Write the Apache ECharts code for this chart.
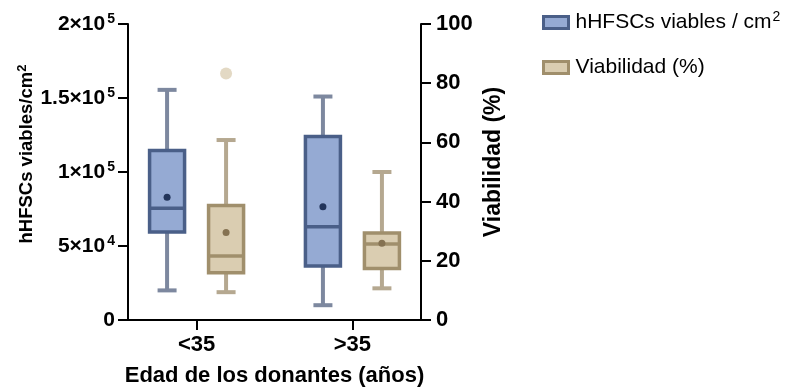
<!DOCTYPE html>
<html>
<head>
<meta charset="utf-8">
<script src="https://cdn.jsdelivr.net/npm/echarts@6/dist/echarts.min.js"></script>
<style>
  html, body { margin: 0; padding: 0; background: #ffffff; }
  #chart { width: 788px; height: 389px; }
</style>
</head>
<body>
<div id="chart"></div>
<script>
// Donor age groups
const categories = ['<35', '>35'];

// hHFSCs viables / cm² (left axis): whisker ends, quartiles, median, mean
const cellsMin    = [20000, 10000];
const cellsQ1     = [59500, 36500];
const cellsMedian = [75500, 63000];
const cellsQ3     = [114500, 124000];
const cellsMax    = [155500, 151000];
const cellsMean   = [83000, 76500];

// Viabilidad (%) (right axis)
const viabMin    = [9.4, 10.7];
const viabQ1     = [16.0, 17.4];
const viabMedian = [21.6, 25.7];
const viabQ3     = [38.7, 29.4];
const viabMax    = [60.8, 50.0];
const viabMean   = [29.6, 25.9];

// Points beyond the whiskers (group index, value)
const viabOutlierGroup = [0];
const viabOutlierValue = [83.3];

// Tick labels; "^" marks the exponent
const leftTickValues = [0, 50000, 100000, 150000, 200000];
const leftTickLabels = ['0', '5×10^4', '1×10^5', '1.5×10^5', '2×10^5'];

const FONT = '"Liberation Sans", Arial, Helvetica, sans-serif';

const palette = {
  cells: { fill: '#95aad3', border: '#4a5f88', whisker: '#7d889f', mean: '#22345a' },
  viab:  { fill: '#dacdb1', border: '#a08f6c', whisker: '#b5a890', mean: '#857252', outlier: '#dccfb5' }
};

function toRichLabel(text) {
  const parts = text.split('^');
  return parts.length > 1 ? '{b|' + parts[0] + '}{s|' + parts[1] + '}' : '{b|' + parts[0] + '}';
}

function boxRenderer(colors, shift) {
  const half = 17.5;
  const capHalf = 9.5;
  return function (params, api) {
    const g = api.value(0);
    const cx = api.coord([g, 0])[0] + shift;
    const py = v => api.coord([g, v])[1];
    const yMin = py(api.value(1));
    const yQ1 = py(api.value(2));
    const yMed = py(api.value(3));
    const yQ3 = py(api.value(4));
    const yMax = py(api.value(5));
    const yMean = py(api.value(6));
    const whisker = { stroke: colors.whisker, lineWidth: 4 };
    return {
      type: 'group',
      children: [
        { type: 'line', shape: { x1: cx, y1: yQ3, x2: cx, y2: yMax }, style: whisker },
        { type: 'line', shape: { x1: cx - capHalf, y1: yMax, x2: cx + capHalf, y2: yMax }, style: whisker },
        { type: 'line', shape: { x1: cx, y1: yQ1, x2: cx, y2: yMin }, style: whisker },
        { type: 'line', shape: { x1: cx - capHalf, y1: yMin, x2: cx + capHalf, y2: yMin }, style: whisker },
        { type: 'rect', shape: { x: cx - half, y: yQ3, width: half * 2, height: yQ1 - yQ3 },
          style: { fill: colors.fill, stroke: colors.border, lineWidth: 3.5 } },
        { type: 'line', shape: { x1: cx - half, y1: yMed, x2: cx + half, y2: yMed },
          style: { stroke: colors.border, lineWidth: 3.5 } },
        { type: 'circle', shape: { cx: cx, cy: yMean, r: 3.5 }, style: { fill: colors.mean } }
      ]
    };
  };
}

const cellsData = categories.map((c, i) =>
  [i, cellsMin[i], cellsQ1[i], cellsMedian[i], cellsQ3[i], cellsMax[i], cellsMean[i]]);
const viabData = categories.map((c, i) =>
  [i, viabMin[i], viabQ1[i], viabMedian[i], viabQ3[i], viabMax[i], viabMean[i]]);
const outlierData = viabOutlierGroup.map((g, i) => [g, viabOutlierValue[i]]);

const NAME_CELLS = 'hHFSCs viables / cm²';
const NAME_VIAB = 'Viabilidad (%)';

const chart = echarts.init(document.getElementById('chart'), null, { renderer: 'canvas' });

const tickLabelRich = {
  b: { fontFamily: FONT, fontWeight: 'bold', fontSize: 21, color: '#000', lineHeight: 24 },
  s: { fontFamily: FONT, fontWeight: 'bold', fontSize: 14, color: '#000', verticalAlign: 'top', padding: [0, 0, 0, 2] }
};

chart.setOption({
  animation: false,
  backgroundColor: '#ffffff',
  grid: { left: 128, right: 367, top: 24, bottom: 69, containLabel: false, outerBoundsMode: 'none' },
  legend: {
    left: 537, top: 5,
    orient: 'vertical',
    itemWidth: 25, itemHeight: 12, itemGap: 24,
    selectedMode: false,
    formatter: name => name === NAME_CELLS ? '{t|hHFSCs viables / cm}{s|2}' : '{t|' + name + '}',
    textStyle: {
      rich: {
        t: { fontFamily: FONT, fontSize: 21, color: '#000', lineHeight: 25, padding: [0, 0, 0, 2] },
        s: { fontFamily: FONT, fontSize: 14, color: '#000', verticalAlign: 'top', padding: [0, 0, 0, 1] }
      }
    },
    data: [
      { name: NAME_CELLS, icon: 'rect',
        itemStyle: { color: palette.cells.fill, borderColor: palette.cells.border, borderWidth: 3 } },
      { name: NAME_VIAB, icon: 'rect',
        itemStyle: { color: palette.viab.fill, borderColor: palette.viab.border, borderWidth: 3 } }
    ]
  },
  xAxis: {
    type: 'value',
    min: -0.44, max: 1.44,
    name: 'Edad de los donantes (años)',
    nameLocation: 'middle',
    nameGap: 45,
    nameTextStyle: { fontFamily: FONT, fontWeight: 'bold', fontSize: 22, color: '#000' },
    axisLine: { show: true, onZero: false, lineStyle: { color: '#000', width: 2 } },
    axisTick: { show: true, customValues: [0, 1], length: 10, lineStyle: { color: '#000', width: 2 } },
    axisLabel: { customValues: [0, 1], formatter: v => categories[Math.round(v)], margin: 14,
      fontFamily: FONT, fontWeight: 'bold', fontSize: 22, color: '#000' },
    splitLine: { show: false }
  },
  yAxis: [
    {
      type: 'value', position: 'left',
      min: 0, max: 200000, interval: 50000,
      name: '{n|hHFSCs viables/cm}{s|2}',
      nameLocation: 'middle', nameRotate: 90, nameGap: 88,
      nameTextStyle: {
        padding: [0, 0, 0, 36],
        rich: {
          n: { fontFamily: FONT, fontWeight: 'bold', fontSize: 18.5, color: '#000', lineHeight: 22 },
          s: { fontFamily: FONT, fontWeight: 'bold', fontSize: 13, color: '#000', verticalAlign: 'top' }
        }
      },
      axisLine: { show: true, onZero: false, lineStyle: { color: '#000', width: 2 } },
      axisTick: { show: true, length: 10, lineStyle: { color: '#000', width: 2 } },
      axisLabel: {
        margin: 13,
        formatter: v => toRichLabel(leftTickLabels[leftTickValues.indexOf(v)] ?? String(v)),
        rich: tickLabelRich
      },
      splitLine: { show: false }
    },
    {
      type: 'value', position: 'right',
      min: 0, max: 100, interval: 20,
      name: 'Viabilidad (%)',
      nameLocation: 'middle', nameRotate: 90, nameGap: 61,
      nameTextStyle: { fontFamily: FONT, fontWeight: 'bold', fontSize: 23, color: '#000', padding: [0, 0, 0, 20] },
      axisLine: { show: true, onZero: false, lineStyle: { color: '#000', width: 2 } },
      axisTick: { show: true, length: 10, lineStyle: { color: '#000', width: 2 } },
      axisLabel: { margin: 15, fontFamily: FONT, fontWeight: 'bold', fontSize: 22, color: '#000' },
      splitLine: { show: false }
    }
  ],
  series: [
    {
      name: NAME_CELLS, type: 'custom', xAxisIndex: 0, yAxisIndex: 0,
      itemStyle: { color: palette.cells.fill, borderColor: palette.cells.border },
      renderItem: boxRenderer(palette.cells, -29.5),
      encode: { x: 0, y: [1, 2, 3, 4, 5, 6] },
      data: cellsData, z: 2
    },
    {
      name: NAME_VIAB, type: 'custom', xAxisIndex: 0, yAxisIndex: 1,
      itemStyle: { color: palette.viab.fill, borderColor: palette.viab.border },
      renderItem: boxRenderer(palette.viab, 29.5),
      encode: { x: 0, y: [1, 2, 3, 4, 5, 6] },
      data: viabData, z: 2
    },
    {
      name: 'viabOutliers', type: 'scatter', xAxisIndex: 0, yAxisIndex: 1,
      symbol: 'circle', symbolSize: 12, symbolOffset: [29.5, 0],
      itemStyle: { color: palette.viab.outlier },
      data: outlierData, z: 3
    }
  ]
});
</script>
</body>
</html>
